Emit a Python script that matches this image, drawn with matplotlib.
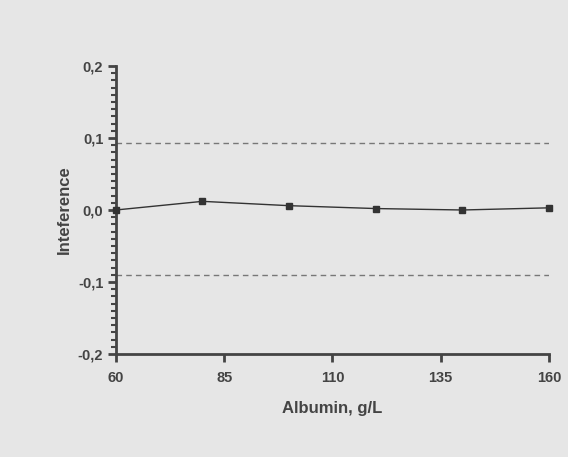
import numpy as np
import matplotlib.pyplot as plt
from matplotlib.ticker import MultipleLocator

# data
albumin = [60, 80, 100, 120, 140, 160]
interference = [0.0, 0.012, 0.006, 0.002, 0.0, 0.003]
upper_limit = 0.093
lower_limit = -0.09

xticks = [60, 85, 110, 135, 160]
yticks = [-0.2, -0.1, 0.0, 0.1, 0.2]

plt.rcParams['font.family'] = ['Liberation Sans', 'DejaVu Sans']
bg = '#e6e6e6'
dark = '#444444'

fig = plt.figure(figsize=(5.68, 4.57), dpi=100, facecolor=bg)
ax = fig.add_axes([0.204, 0.2254, 0.7625, 0.6302])
ax.set_facecolor(bg)

ax.axhline(upper_limit, color='#777777', lw=1, ls=(0, (4, 3)))
ax.axhline(lower_limit, color='#777777', lw=1, ls=(0, (4, 3)))
ax.plot(albumin, interference, color='#333333', lw=1, marker='s', ms=5,
        mfc='#333333', mec='#333333', clip_on=False, zorder=5)

ax.set_xlim(60, 160)
ax.set_ylim(-0.2, 0.2)
ax.set_xticks(xticks)
ax.set_yticks(yticks)
ax.set_yticklabels([f"{v:.1f}".replace('.', ',') for v in yticks])
ax.yaxis.set_minor_locator(MultipleLocator(0.01))

for s in ['top', 'right']:
    ax.spines[s].set_visible(False)
for s in ['left', 'bottom']:
    ax.spines[s].set_color(dark)
    ax.spines[s].set_linewidth(2)

ax.tick_params(axis='both', which='major', length=6, width=2, color=dark,
               labelcolor=dark, labelsize=10.5)
ax.tick_params(axis='y', which='minor', length=3.5, width=1.5, color=dark)
for lab in ax.get_xticklabels() + ax.get_yticklabels():
    lab.set_fontweight('bold')
ax.tick_params(axis='x', pad=6)
ax.tick_params(axis='y', pad=3)

ax.set_xlabel('Albumin, g/L', fontsize=12, fontweight='bold', color=dark, labelpad=12)
ax.set_ylabel('Inteference', fontsize=12, fontweight='bold', color=dark, labelpad=4)

fig.savefig('out.png', dpi=100, facecolor=bg)
